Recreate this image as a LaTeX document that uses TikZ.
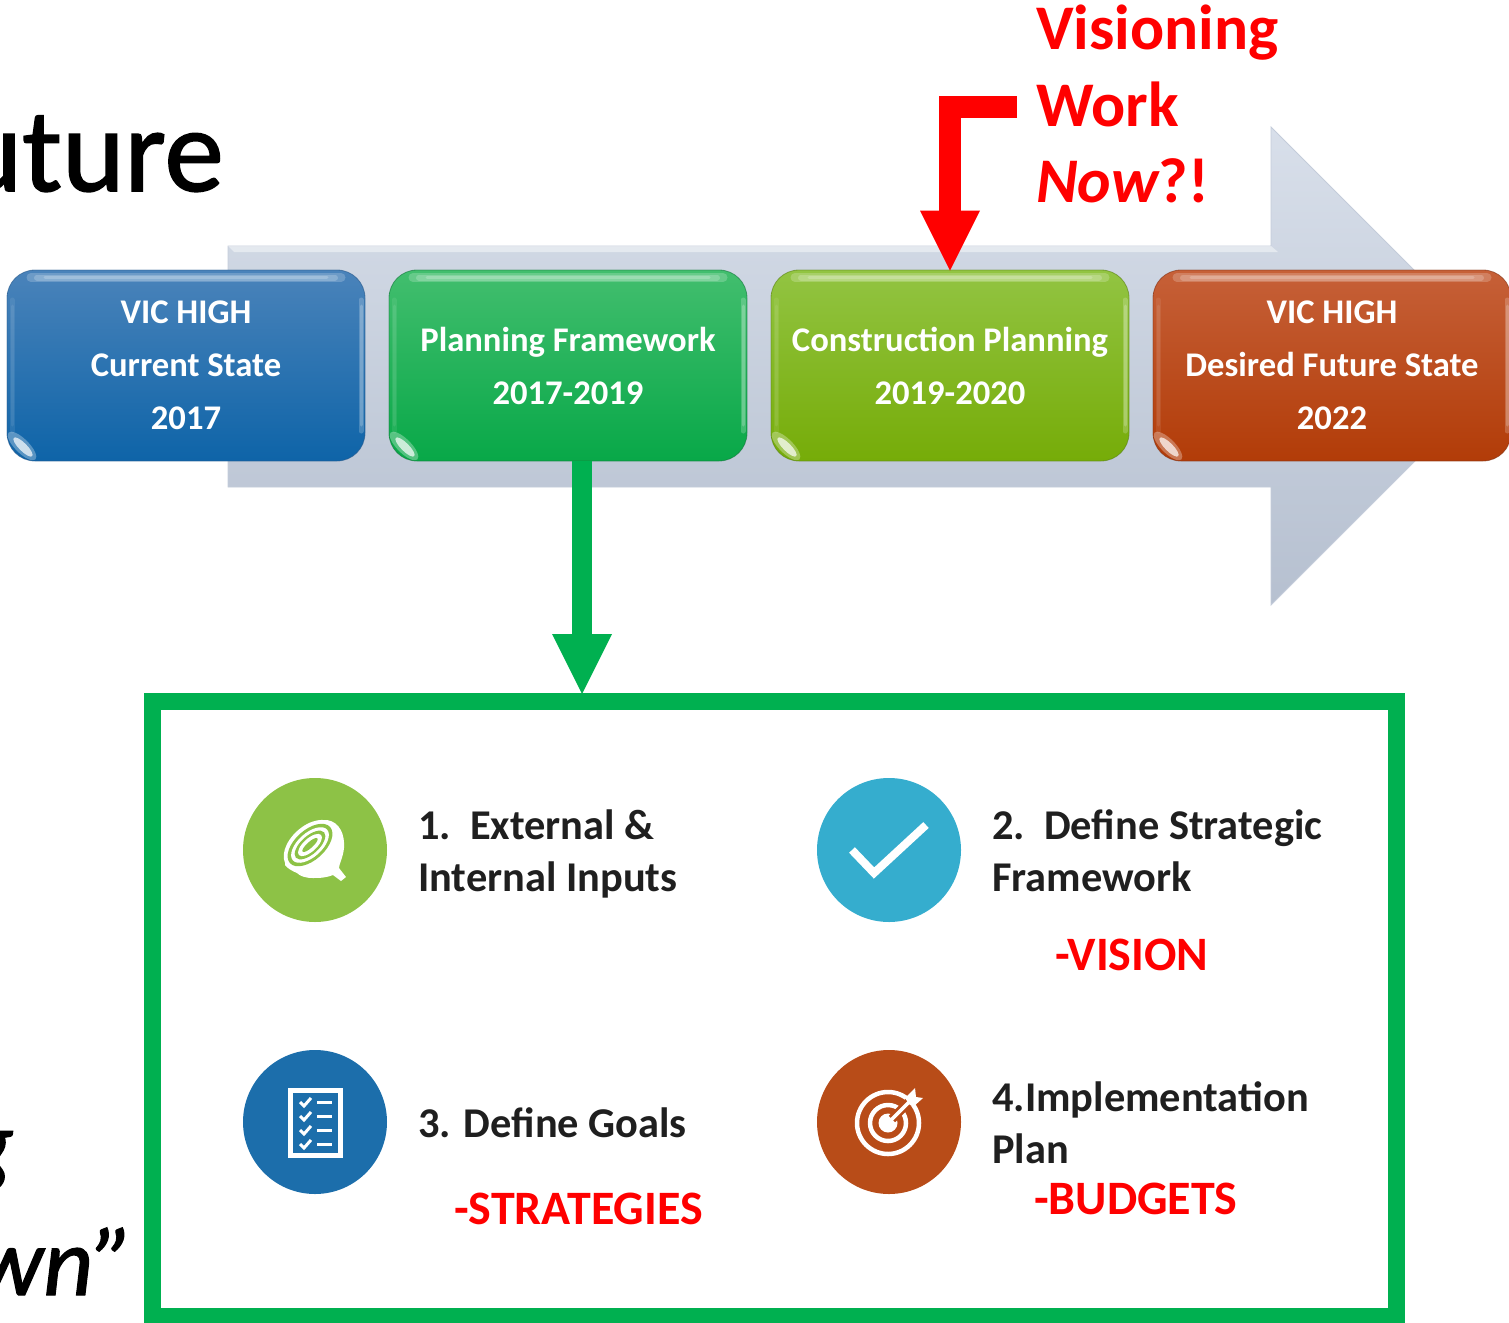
\documentclass[tikz,border=0pt]{standalone}
\usepackage{fontspec}
\setmainfont{Carlito}
\newfontfamily\titlefont[FakeBold=1.3]{Carlito}
\usetikzlibrary{arrows.meta,calc}
\definecolor{cgreen}{HTML}{00B050}
\definecolor{cred}{HTML}{FF0000}
\definecolor{iconlime}{HTML}{8DC246}
\definecolor{iconcyan}{HTML}{35ADCE}
\definecolor{iconblue}{HTML}{1C6EAB}
\definecolor{iconrust}{HTML}{B84C18}
\definecolor{edgeblue}{RGB}{40,90,140}
\definecolor{edgegreen}{RGB}{20,120,60}
\definecolor{edgelime}{RGB}{90,130,20}
\definecolor{edgerust}{RGB}{130,50,20}
\tikzset{
  gloss/.style={draw=#1, draw opacity=.6, line width=.8pt, rounded corners=28pt, minimum width=358pt, minimum height=191pt,
    inner sep=0pt, align=center, text=white, font=\fontsize{34.6}{53}\selectfont\bfseries,
    path picture={
      \coordinate (nw) at (path picture bounding box.north west);
      \coordinate (ne) at (path picture bounding box.north east);
      \coordinate (sw) at (path picture bounding box.south west);
      \coordinate (se) at (path picture bounding box.south east);
      \foreach \wd/\ins in {9/24,6/30,3/38}{
        \draw[white,opacity=.2,line width=\wd pt,line cap=round] ($(nw)+(\ins pt,-7.5pt)$) -- ($(ne)+(-\ins pt,-7.5pt)$);
      }
      \foreach \wd/\ins in {5/30,3/36}{
        \draw[white,opacity=.2,line width=\wd pt,line cap=round] ($(ne)+(-4pt,-\ins pt)$) -- ($(se)+(-4pt,\ins pt)$);
        \draw[white,opacity=.08,line width=\wd pt,line cap=round] ($(nw)+(5pt,-\ins pt)$) -- ($(sw)+(5pt,\ins pt)$);
      }
      \fill[white,opacity=.3] ($(sw)+(15pt,15pt)$) ellipse[x radius=19pt,y radius=7pt,rotate=-45];
      \fill[white,opacity=.7] ($(sw)+(16pt,14pt)$) ellipse[x radius=13pt,y radius=4pt,rotate=-45];
    }},
  blackt/.style={anchor=base west, inner sep=0pt, text=black!88, font=\fontsize{42.4}{47}\selectfont\bfseries},
  redt/.style={anchor=base west, inner sep=0pt, text=cred, font=\fontsize{48}{50}\selectfont\bfseries},
  bigred/.style={anchor=base west, inner sep=0pt, text=cred, font=\fontsize{63.6}{70}\selectfont\bfseries},
  icon/.style={circle, fill=#1, minimum size=144pt, inner sep=0pt},
  bigarrow/.style={line width=20pt, draw=#1, shorten >=-1pt, -{Triangle[length=60pt,width=60pt,line width=0pt,fill=#1]}},
}
\begin{document}
\begin{tikzpicture}[x=1pt,y=-1pt]
\useasboundingbox (0,0) rectangle (1509,1322);
\clip (0,0) rectangle (1509,1322);

% titles clipped by the slide edge
\node[anchor=base east, inner sep=0pt, font=\fontsize{119}{119}\titlefont] (title) at (224,191) {uture};
\node[anchor=base east, inner sep=0pt, font=\fontsize{97}{97}\titlefont\itshape] (gtxt) at (14,1176) {g};
\node[anchor=base east, inner sep=0pt, font=\fontsize{97}{97}\titlefont\itshape] (wntxt) at (134,1295) {wn”};

% timeline arrow
\path[shade, top color={rgb,255:red,216;green,223;blue,234}, bottom color={rgb,255:red,182;green,192;blue,208}, draw={rgb,255:red,196;green,204;blue,218}, line width=.8pt]
  (228,246) -- (1271,246) -- (1271,127) -- (1510,366) -- (1271,605) -- (1271,487) -- (228,487) -- cycle;
\fill[white,opacity=.45] (228,246) -- (1271,246) -- (1278,252) -- (234,252) -- cycle;

% timeline boxes
\node[gloss=edgeblue, top color={rgb,255:red,74;green,131;blue,186}, bottom color={rgb,255:red,14;green,100;blue,168}] (cur) at (186,365.5) {VIC HIGH\\Current State\\2017};
\node[gloss=edgegreen, top color={rgb,255:red,66;green,190;blue,110}, bottom color={rgb,255:red,8;green,168;blue,72}] (plan) at (568,365.5) {Planning Framework\\2017-2019};
\node[gloss=edgelime, top color={rgb,255:red,146;green,196;blue,66}, bottom color={rgb,255:red,118;green,172;blue,8}] (cons) at (950,365.5) {Construction Planning\\2019-2020};
\node[gloss=edgerust, top color={rgb,255:red,198;green,96;blue,56}, bottom color={rgb,255:red,178;green,60;blue,8}] (fut) at (1332,365.5) {VIC HIGH\\Desired Future State\\2022};

% green frame
\node[draw=cgreen, line width=17pt, minimum width=1244pt, minimum height=615pt, inner sep=0pt, anchor=north west] (frame) at (144,693) {};

% connectors
\coordinate (gstart) at ($(plan.south)+(14pt,0pt)$);
\draw[bigarrow=cgreen] (gstart) -- (gstart |- frame.north);
\coordinate (rstart) at (1017,107);
\draw[bigarrow=cred, line width=22pt] (rstart) -| (cons.north);

% red heading
\node[bigred] (v1) at (1036,49) {Visioning};
\node[bigred] (v2) at (1036,126) {Work};
\node[bigred] (v3) at (1036,202.5) {\itshape Now\upshape ?!};

% icons
\node[icon=iconlime] (i1) at (315,850) {};
\node[icon=iconcyan] (i2) at (889,850) {};
\node[icon=iconblue] (i3) at (315,1122) {};
\node[icon=iconrust] (i4) at (889,1122) {};

% onion
\fill[white] (285,858) .. controls (288,838) and (308,820) .. (327,820)
  .. controls (340,822) and (345,835) .. (344,848)
  .. controls (343,858) and (339,864) .. (339,868) -- (346,877) -- (341,881) -- (333,875)
  .. controls (325,878) and (320,878) .. (313,878)
  .. controls (305,878) and (300,876) .. (297,873)
  .. controls (292,871) and (287,868) .. (285,865) -- cycle;
\begin{scope}[shift={(310,845)},rotate=42]
  \fill[white] (0,0) ellipse[x radius=31pt,y radius=19pt];
  \fill[iconlime] (0,0) ellipse[x radius=27pt,y radius=15pt];
  \fill[white] (0,0) ellipse[x radius=23pt,y radius=12pt];
  \fill[iconlime] (0,0) ellipse[x radius=19pt,y radius=9pt];
  \fill[white] (0,0) ellipse[x radius=15pt,y radius=6.5pt];
  \fill[iconlime] (0,0) ellipse[x radius=10pt,y radius=3pt];
\end{scope}

% tick
\draw[white,line width=8pt] (852,850) -- (874,873) -- (926,825);

% checklist
\draw[white,line width=5pt] (290.5,1090.5) rectangle (340.5,1155.5);
\foreach \yy in {1102,1116,1130,1144}{
  \draw[white,line width=3pt] (300,\yy) -- (304,\yy+4) -- (311,\yy-4);
  \draw[white,line width=3pt] (317,\yy) -- (332,\yy);
}

% target
\draw[white,line width=4.5pt] (888,1123) circle[radius=31pt];
\draw[white,line width=4.5pt] (888,1123) circle[radius=18pt];
\fill[white] (888,1123) circle[radius=9.5pt];
\draw[iconrust,line width=9pt] (892,1119) -- (912,1099);
\draw[white,line width=3.5pt] (890,1121) -- (911,1100);
\fill[white] (905,1098) -- (915,1088) -- (916,1097) -- (923,1098) -- (913,1107) -- (909,1104) -- cycle;

% texts
\node[blackt] (t1a) at (418,839.5) {1.\ \ External \&};
\node[blackt] (t1b) at (418,891.5) {Internal Inputs};
\node[blackt] (t2a) at (992,839.5) {2.\ \ Define Strategic};
\node[blackt] (t2b) at (992,891.5) {Framework};
\node[redt] (t2c) at (1055,970) {-VISION};
\node[blackt] (t3a) at (418,1137.5) {3. Define Goals};
\node[redt] (t3b) at (454,1224) {-STRATEGIES};
\node[blackt] (t4a) at (992,1111.5) {4.Implementation};
\node[blackt] (t4b) at (992,1163.5) {Plan};
\node[redt] (t4c) at (1034,1214) {-BUDGETS};
\end{tikzpicture}
\end{document}
